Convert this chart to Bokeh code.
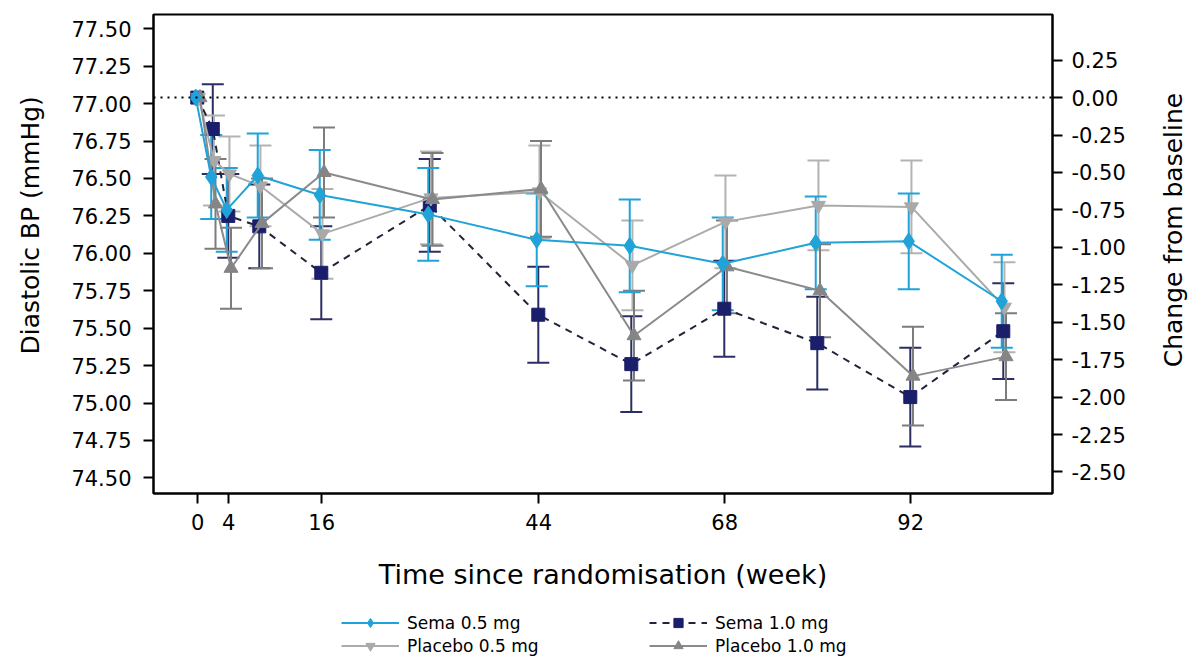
import math
from bokeh.plotting import figure
from bokeh.layouts import row, column
from bokeh.models import (Range1d, LinearAxis, FixedTicker, NumeralTickFormatter, Span,
                          Whisker, ColumnDataSource, Legend, LegendItem, TeeHead, Label)
from bokeh.embed import file_html
from bokeh.resources import INLINE

# Visit weeks and mean diastolic blood pressure (mmHg) with 95% CI half-widths
weeks = [0, 2, 4, 8, 16, 30, 44, 56, 68, 80, 92, 104]
baseline = 77.04

sema_05 = [77.04, 76.51, 76.29, 76.52, 76.39, 76.26, 76.09, 76.05, 75.93, 76.07, 76.08, 75.68]
sema_05_ci = [0, 0.28, 0.28, 0.28, 0.30, 0.31, 0.31, 0.31, 0.31, 0.31, 0.32, 0.31]

sema_10 = [77.04, 76.83, 76.25, 76.18, 75.87, 76.32, 75.59, 75.26, 75.63, 75.40, 75.04, 75.48]
sema_10_ci = [0, 0.30, 0.28, 0.28, 0.31, 0.31, 0.32, 0.32, 0.32, 0.31, 0.33, 0.32]

placebo_05 = [77.04, 76.62, 76.53, 76.45, 76.13, 76.37, 76.41, 75.92, 76.21, 76.32, 76.31, 75.64]
placebo_05_ci = [0, 0.30, 0.25, 0.27, 0.30, 0.31, 0.31, 0.30, 0.31, 0.30, 0.31, 0.30]

placebo_10 = [77.04, 76.33, 75.90, 76.20, 76.54, 76.36, 76.43, 75.45, 75.91, 75.75, 75.18, 75.31]
placebo_10_ci = [0, 0.30, 0.27, 0.30, 0.30, 0.31, 0.32, 0.30, 0.31, 0.31, 0.33, 0.29]

x_ticks = [0, 4, 16, 44, 68, 92]
left_ticks = [74.50, 74.75, 75.00, 75.25, 75.50, 75.75, 76.00, 76.25, 76.50, 76.75, 77.00, 77.25, 77.50]
right_ticks = [0.25, 0.00, -0.25, -0.50, -0.75, -1.00, -1.25, -1.50, -1.75, -2.00, -2.25, -2.50]

FONT = "DejaVu Sans"
Y_LO, Y_HI = 74.396, 77.595

# page geometry (pixels)
LW, RW, MAIN_W, MAIN_H, LEG_H = 65, 60, 1068, 600, 57


def blank_fig(w, h):
    f = figure(width=w, height=h, output_backend="svg", toolbar_location=None,
               x_range=Range1d(0, w), y_range=Range1d(0, h), min_border=0,
               x_axis_location=None, y_axis_location=None)
    f.outline_line_color = None
    f.grid.visible = False
    f.background_fill_color = "white"
    f.border_fill_color = "white"
    return f


p = figure(width=MAIN_W, height=MAIN_H, output_backend="svg", toolbar_location=None,
           x_range=Range1d(-5.7, 110.3), y_range=Range1d(Y_LO, Y_HI),
           min_border_left=88, min_border_right=81, min_border_top=14, min_border_bottom=107)
p.background_fill_color = "white"
p.border_fill_color = "white"
p.outline_line_color = "black"
p.outline_line_width = 2
p.xgrid.visible = False
p.ygrid.visible = False

p.extra_y_ranges = {"chg": Range1d(Y_LO - baseline, Y_HI - baseline)}


def style_axis(ax, size="21px"):
    ax.axis_line_color = "black"
    ax.axis_line_width = 2
    ax.major_tick_line_color = "black"
    ax.major_tick_line_width = 2
    ax.major_tick_out = 10
    ax.major_tick_in = 0
    ax.minor_tick_line_color = None
    ax.major_label_text_font = FONT
    ax.major_label_text_font_size = size
    ax.major_label_text_color = "black"
    ax.axis_label_text_font = FONT
    ax.axis_label_text_font_style = "normal"
    ax.axis_label_text_color = "black"


xa = p.xaxis[0]
style_axis(xa)
xa.ticker = FixedTicker(ticks=x_ticks)
xa.axis_label = "Time since randomisation (week)"
xa.axis_label_text_font_size = "27px"
xa.axis_label_standoff = 26
xa.major_label_standoff = 10

ya = p.yaxis[0]
style_axis(ya)
ya.ticker = FixedTicker(ticks=left_ticks)
ya.formatter = NumeralTickFormatter(format="0.00")
ya.major_label_standoff = 12

ra = LinearAxis(y_range_name="chg")
style_axis(ra)
ra.ticker = FixedTicker(ticks=right_ticks)
ra.formatter = NumeralTickFormatter(format="0.00")
ra.major_label_standoff = 9
p.add_layout(ra, "right")

p.add_layout(Span(location=baseline, dimension="width", line_color="black",
                  line_width=2, line_dash="2 5"))

series = [
    # name, values, ci, marker colour, error colour, line colour, marker, size, dash, dodge
    ("Sema 1.0 mg", sema_10, sema_10_ci, "#1b1f6b", "#2b2e63", "#22253a", "square", 13, "7 6", -0.05),
    ("Placebo 0.5 mg", placebo_05, placebo_05_ci, "#a9a9a9", "#b3b3b3", "#ababab", "inverted_triangle", 14, "solid", 0.1),
    ("Placebo 1.0 mg", placebo_10, placebo_10_ci, "#858585", "#7c7c7c", "#8a8a8a", "triangle", 14, "solid", 0.3),
    ("Sema 0.5 mg", sema_05, sema_05_ci, "#1fa3d8", "#1fa3d8", "#1fa3d8", "diamond", 17, "solid", -0.25),
]

# key drawn in its own strip under the chart
leg_fig = blank_fig(MAIN_W + LW + RW, LEG_H)
legend_items = {}
for name, vals, ci, col, ecol, lcol, marker, size, dash, dodge in series:
    xs = [w + dodge for w in weeks]
    src = ColumnDataSource(dict(x=xs, y=vals))
    err_src = ColumnDataSource(dict(
        x=xs[1:], upper=[v + c for v, c in zip(vals[1:], ci[1:])],
        lower=[v - c for v, c in zip(vals[1:], ci[1:])],
    ))
    p.add_layout(Whisker(source=err_src, base="x", upper="upper", lower="lower",
                         line_color=ecol, line_width=2,
                         upper_head=TeeHead(size=22, line_color=ecol, line_width=2),
                         lower_head=TeeHead(size=22, line_color=ecol, line_width=2)))
    p.line("x", "y", source=src, line_color=lcol, line_width=2, line_dash=dash)
    p.scatter("x", "y", source=src, marker=marker, size=size, fill_color=col, line_color=col)

    # key-only renderers (a single undefined point, so only the legend swatch shows)
    key_src = ColumnDataSource(dict(x=[float("nan")], y=[float("nan")]))
    lr = leg_fig.line("x", "y", source=key_src, line_color=lcol, line_width=2, line_dash=dash)
    sr = leg_fig.scatter("x", "y", source=key_src, marker=marker, size=size,
                         fill_color=col, line_color=col)
    legend_items[name] = LegendItem(label=name, renderers=[lr, sr])

legend = Legend(items=[legend_items["Sema 0.5 mg"], legend_items["Placebo 0.5 mg"],
                       legend_items["Sema 1.0 mg"], legend_items["Placebo 1.0 mg"]],
                orientation="vertical", nrows=2, location=(341, 0))
legend.label_text_font = FONT
legend.label_text_font_size = "17px"
legend.label_text_color = "black"
legend.glyph_width = 58
legend.glyph_height = 23
legend.label_height = 22
legend.label_width = 242
legend.spacing = 0
legend.padding = 0
legend.margin = 0
legend.label_standoff = 8
legend.border_line_color = None
legend.background_fill_alpha = 0
leg_fig.add_layout(legend, "center")

# axis titles, both reading bottom to top
left_fig = blank_fig(LW, MAIN_H)
left_fig.add_layout(Label(x=30, y=MAIN_H - 264, text="Diastolic BP (mmHg)", angle=math.pi / 2,
                          text_align="center", text_baseline="middle",
                          text_font=FONT, text_font_size="25px", text_color="black"))
right_fig = blank_fig(RW, MAIN_H)
right_fig.add_layout(Label(x=40, y=MAIN_H - 270, text="Change from baseline", angle=math.pi / 2,
                           text_align="center", text_baseline="middle",
                           text_font=FONT, text_font_size="25px", text_color="black"))

layout = column(row(left_fig, p, right_fig), leg_fig)
open("out.html", "w").write(file_html(layout, INLINE))
